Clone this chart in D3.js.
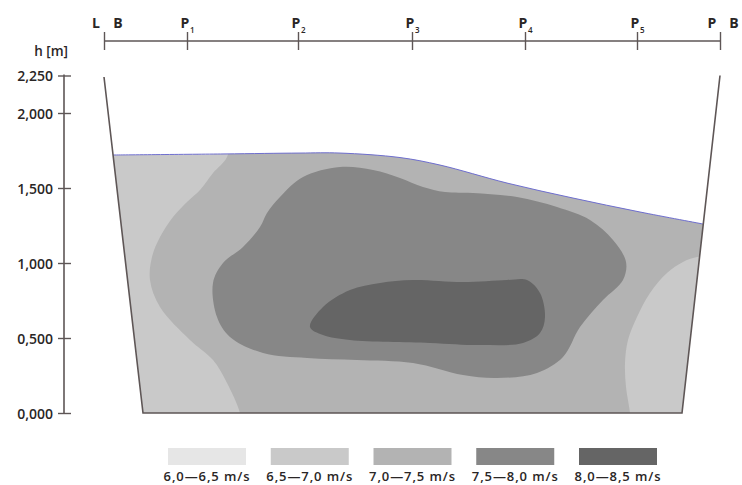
<!DOCTYPE html>
<html>
<head>
<meta charset="utf-8">
<script src="https://cdn.jsdelivr.net/npm/d3@7"></script>
<style>
  html, body { margin: 0; padding: 0; background: #fff; }
  svg { display: block; }
  text { font-family: "Open Sans", "DejaVu Sans", sans-serif; fill: #2a2626; }
</style>
</head>
<body>
<svg id="chart" width="742" height="485"></svg>
<script>
// ---------------- DATA ----------------
// stations along the cross-section (horizontal distance, m)
const stationNames = ["LB", "P1", "P2", "P3", "P4", "P5", "PB"];
const stationPos   = [0, 8.3, 19.4, 30.8, 42.1, 53.3, 61.6];

// y-axis ticks (h, m)
const yTicks      = [0, 0.5, 1.0, 1.5, 2.0, 2.25];
const yTickLabels = ["0,000", "0,500", "1,000", "1,500", "2,000", "2,250"];

// river banks and bed outline [distance, h]
const bankOutline = [[0, 2.24], [3.9, 0], [57.8, 0], [61.6, 2.25]];

// water surface [distance, h]
const waterSurface = [[0.9, 1.720], [12.0, 1.727], [19.6, 1.733], [23.6, 1.733], [29.6, 1.703],
                      [33.6, 1.653], [40.3, 1.533], [46.9, 1.433], [53.6, 1.340], [59.9, 1.260]];

// velocity classes
const classLabels = ["6,0\u20146,5 m/s", "6,5\u20147,0 m/s", "7,0\u20147,5 m/s", "7,5\u20148,0 m/s", "8,0\u20148,5 m/s"];
const classColors = ["#e6e6e6", "#c9c9c9", "#b3b3b3", "#878787", "#656565"];

// isotach zone boundaries [distance, h]
// 7,0-7,5 zone: boundary on the left side (open, rest lies outside the section)
const zone3Boundary = [[12.8, 1.90], [12.3, 1.707], [10.9, 1.600], [9.6, 1.487], [8.3, 1.407], [6.9, 1.307],
                       [5.6, 1.173], [4.8, 1.040], [4.6, 0.887], [5.6, 0.707], [8.6, 0.487], [10.9, 0.353],
                       [12.3, 0.200], [13.6, 0], [13.8, -0.1]];
const zone3Outside  = [[66, -0.1], [66, 1.90]];
// 6,5-7,0 zone near the right bank
const zone2RightBoundary = [[62.5, 1.06], [59.3, 1.040], [57.9, 1.007], [56.3, 0.933], [54.6, 0.800], [53.3, 0.640],
                            [52.4, 0.487], [52.1, 0.333], [52.2, 0.173], [52.6, 0], [52.7, -0.1]];
const zone2RightOutside  = [[66, -0.1], [66, 1.06]];
// 7,5-8,0 closed zone
const zone4 = [[23.6, 1.640], [26.9, 1.620], [29.6, 1.567], [31.9, 1.507], [34.1, 1.473], [36.9, 1.467],
               [41.3, 1.440], [45.3, 1.373], [48.6, 1.287], [50.9, 1.153], [52.2, 1.007], [51.9, 0.887],
               [49.9, 0.753], [47.6, 0.573], [45.9, 0.373], [43.3, 0.267], [39.3, 0.233], [35.9, 0.253],
               [30.9, 0.333], [25.3, 0.353], [20.3, 0.367], [15.9, 0.400], [12.6, 0.507], [11.3, 0.640],
               [10.9, 0.867], [11.9, 1.000], [13.9, 1.107], [15.6, 1.240], [16.3, 1.333], [17.6, 1.440],
               [19.9, 1.573]];
// 8,0-8,5 closed zone
const zone5 = [[20.6, 0.573], [21.9, 0.707], [24.6, 0.820], [27.6, 0.867], [30.9, 0.887], [35.9, 0.873],
               [40.3, 0.887], [42.3, 0.887], [43.6, 0.800], [44.1, 0.640], [43.6, 0.533], [41.9, 0.467],
               [37.6, 0.453], [32.6, 0.467], [24.6, 0.487], [21.9, 0.520]];

// ---------------- CHART ----------------
const svg = d3.select("#chart");
const x = d3.scaleLinear().domain([0, 61.6]).range([104, 720]);
const y = d3.scaleLinear().domain([0, 2.25]).range([413, 75.5]);

const openCurve = d3.line().x(d => x(d[0])).y(d => y(d[1])).curve(d3.curveCatmullRom.alpha(0.5));
const closedCurve = d3.line().x(d => x(d[0])).y(d => y(d[1])).curve(d3.curveCatmullRomClosed.alpha(0.5));
const straight = d3.line().x(d => x(d[0])).y(d => y(d[1]));
const tail = pts => pts.map(p => "L" + x(p[0]) + "," + y(p[1])).join("") + "Z";

// water cross-section clip
const bedR = bankOutline[2], bedL = bankOutline[1];
const waterPath = openCurve(waterSurface) + tail([bedR, bedL]);
svg.append("defs").append("clipPath").attr("id", "water")
  .append("path").attr("d", waterPath);

const g = svg.append("g").attr("clip-path", "url(#water)");
g.append("path").attr("d", waterPath).attr("fill", classColors[1]);
g.append("path").attr("d", openCurve(zone3Boundary) + tail(zone3Outside)).attr("fill", classColors[2]);
g.append("path").attr("d", openCurve(zone2RightBoundary) + tail(zone2RightOutside)).attr("fill", classColors[1]);
g.append("path").attr("d", closedCurve(zone4)).attr("fill", classColors[3]);
g.append("path").attr("d", closedCurve(zone5)).attr("fill", classColors[4]);

// water surface line
svg.append("path").attr("d", openCurve(waterSurface))
  .attr("fill", "none").attr("stroke", "#6f6fcf").attr("stroke-width", 1);

// banks & bed
svg.append("path").attr("d", straight(bankOutline))
  .attr("fill", "none").attr("stroke", "#5e5656").attr("stroke-width", 1.6);

// y axis
const yAxis = svg.append("g").attr("transform", "translate(64,0)")
  .call(d3.axisLeft(y).tickValues(yTicks).tickSizeOuter(0)
        .tickFormat((d, i) => yTickLabels[i]));
yAxis.attr("font-family", null).attr("font-size", null);
yAxis.select(".domain").attr("stroke", "#5e5656").attr("stroke-width", 1.6)
  .attr("d", `M0,${y(2.25) - 1}V${y(0)}`);
yAxis.selectAll(".tick line").attr("x1", -6).attr("x2", 7).attr("stroke", "#5e5656").attr("stroke-width", 1.4);
yAxis.selectAll(".tick text").attr("x", -11).attr("dy", "0.36em")
  .style("font-size", "14px").style("font-weight", 600).style("fill", "#2a2626");

svg.append("text").attr("x", 68).attr("y", 56).attr("text-anchor", "end")
  .style("font-size", "13.5px").style("font-weight", 600).text("h [m]");

// top axis (stations)
const xAxis = svg.append("g").attr("transform", "translate(0,41)")
  .call(d3.axisTop(x).tickValues(stationPos).tickSizeOuter(0).tickFormat(""));
xAxis.select(".domain").attr("stroke", "#5e5656").attr("stroke-width", 1.6)
  .attr("d", `M${x(0)},0H${x(61.6)}`);
xAxis.selectAll(".tick line").attr("y1", -9).attr("y2", 9).attr("stroke", "#5e5656").attr("stroke-width", 1.4);

stationNames.forEach((name, i) => {
  const px = x(stationPos[i]);
  if (name === "LB" || name === "PB") {
    svg.append("text").attr("x", px - 8).attr("y", 28).attr("text-anchor", "middle")
      .style("font-size", "14px").style("font-weight", 700).text(name[0]);
    svg.append("text").attr("x", px + 14).attr("y", 28).attr("text-anchor", "middle")
      .style("font-size", "14px").style("font-weight", 700).text(name[1]);
  } else {
    svg.append("text").attr("x", px - 2).attr("y", 28).attr("text-anchor", "middle")
      .style("font-size", "14px").style("font-weight", 700).text(name[0]);
    svg.append("text").attr("x", px + 3).attr("y", 33).attr("text-anchor", "start")
      .style("font-size", "8px").style("font-weight", 600).style("fill", "#2a2626").text(name.slice(1));
  }
});

// legend
const lx = d3.scalePoint().domain(classLabels).range([207, 618]);
const leg = svg.append("g").selectAll("g").data(classLabels).join("g")
  .attr("transform", d => `translate(${lx(d)},0)`);
leg.append("rect").attr("x", -39).attr("y", 448).attr("width", 78).attr("height", 17)
  .attr("fill", (d, i) => classColors[i]);
leg.append("text").attr("x", 0).attr("y", 481).attr("text-anchor", "middle")
  .style("font-size", "13px").style("font-weight", 600).style("letter-spacing", "0.9px")
  .text(d => d);
</script>
</body>
</html>
